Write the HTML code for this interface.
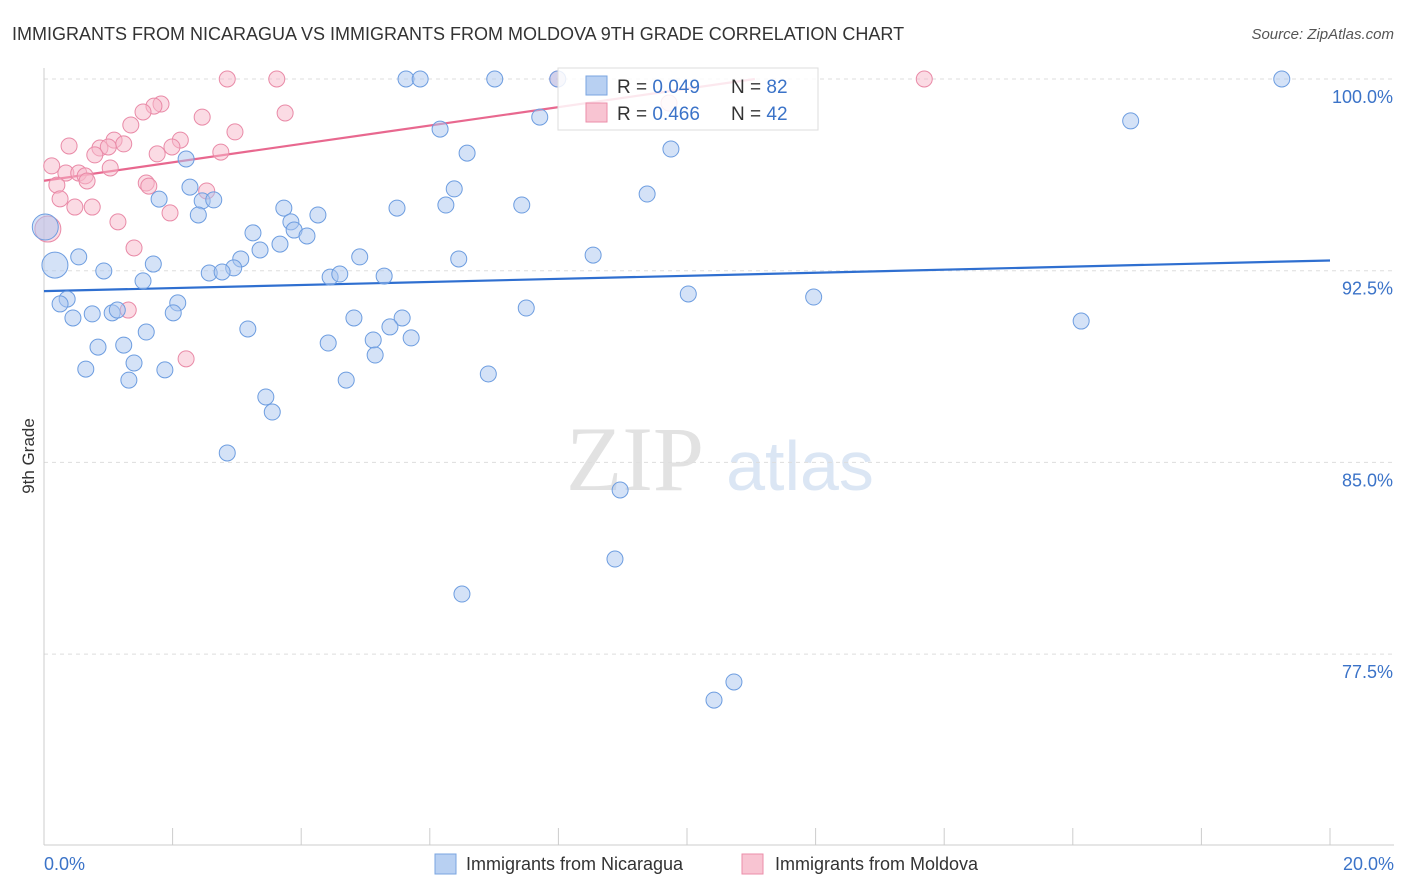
<!DOCTYPE html>
<html><head><meta charset="utf-8">
<style>
body{margin:0;background:#fff;font-family:"Liberation Sans",sans-serif;}
svg{display:block}
</style></head>
<body>
<svg id="chart" width="1406" height="892" viewBox="0 0 1406 892" xmlns="http://www.w3.org/2000/svg">
<text x="12" y="40" font-size="18" fill="#333">IMMIGRANTS FROM NICARAGUA VS IMMIGRANTS FROM MOLDOVA 9TH GRADE CORRELATION CHART</text>
<text x="1394" y="39" font-size="15" fill="#555" font-style="italic" text-anchor="end">Source: ZipAtlas.com</text>
<g>
<text x="635" y="490" font-size="92" fill="#e2e2e2" text-anchor="middle" font-family="Liberation Serif,serif">ZIP</text>
<text x="800" y="490" font-size="70" fill="#dbe6f4" text-anchor="middle">atlas</text>
</g>
<g id="grid"></g>
<g id="axes"></g>
<g id="trend"></g>
<g id="points"></g>
<text x="34" y="456" font-size="17" fill="#333" text-anchor="middle" transform="rotate(-90 34 456)">9th Grade</text>
<text x="44" y="870" font-size="18" fill="#3b73c8">0.0%</text>
<text x="1394" y="870" font-size="18" fill="#3b73c8" text-anchor="end">20.0%</text>
<g>
<rect x="558" y="68" width="260" height="62" fill="#fff" fill-opacity="0.85" stroke="#ddd"/>
<rect x="586" y="76" width="21" height="19" fill="#b8d0f2" stroke="#7aa5e0"/>
<rect x="586" y="103" width="21" height="19" fill="#f8c4d2" stroke="#eb8ea9"/>
<text x="617" y="93" font-size="19" fill="#333">R = <tspan fill="#3b73c8">0.049</tspan></text>
<text x="731" y="93" font-size="19" fill="#333">N = <tspan fill="#3b73c8">82</tspan></text>
<text x="617" y="120" font-size="19" fill="#333">R = <tspan fill="#3b73c8">0.466</tspan></text>
<text x="731" y="120" font-size="19" fill="#333">N = <tspan fill="#3b73c8">42</tspan></text>
</g>
<g>
<rect x="435" y="854" width="21" height="20" fill="#b8d0f2" stroke="#7aa5e0"/>
<text x="466" y="870" font-size="18" fill="#333">Immigrants from Nicaragua</text>
<rect x="742" y="854" width="21" height="20" fill="#f8c4d2" stroke="#eb8ea9"/>
<text x="775" y="870" font-size="18" fill="#333">Immigrants from Moldova</text>
</g>
</svg>
<script>
const yTicks=[100,92.5,85,77.5];
const yTickLabels=["100.0%","92.5%","85.0%","77.5%"];
const xTicks=[0,2,4,6,8,10,12,14,16,18,20];
const nicX=[5.63,5.85,7.01,7.99,19.25,7.71,16.9,6.16,9.75,6.58,2.21,2.27,6.38,9.38,1.79,2.46,2.64,5.49,6.25,7.43,3.73,2.4,3.84,4.26,3.89,4.09,3.25,3.36,3.67,0.54,1.7,0.93,3.06,2.95,2.57,2.77,4.91,6.45,8.54,4.45,4.6,5.29,1.54,0.36,0.25,2.08,2.01,0.45,0.75,1.06,1.14,10.02,11.97,7.5,4.82,5.57,5.38,3.17,1.59,16.13,5.12,5.71,4.42,0.84,1.24,5.15,1.4,0.65,1.88,1.32,4.7,6.91,3.45,3.55,2.85,8.96,8.88,6.5,10.73,10.42];
const nicY=[100,100,100,100,100,98.51,98.36,98.04,97.26,97.1,96.87,95.77,95.7,95.5,95.3,95.23,95.27,94.95,95.07,95.07,94.95,94.68,94.41,94.68,94.09,93.86,93.98,93.31,93.54,93.04,92.76,92.49,92.96,92.61,92.41,92.45,93.04,92.96,93.11,92.25,92.37,92.29,92.1,91.39,91.2,91.24,90.85,90.65,90.81,90.85,90.96,91.59,91.47,91.04,90.65,90.65,90.3,90.22,90.1,90.53,89.79,89.87,89.67,89.51,89.59,89.2,88.89,88.65,88.62,88.22,88.22,88.46,87.56,86.97,85.37,83.92,81.22,79.85,76.41,75.7];
const nicBigX=[0.02,0.17];
const nicBigY=[94.21,92.72];
const molX=[2.85,3.62,7.99,13.69,9.72,1.82,1.71,1.54,2.46,3.75,1.35,2.97,1.09,2.12,0.39,1.24,1.99,0.87,1.0,2.75,1.76,0.79,0.12,1.03,0.34,0.54,0.64,0.67,0.2,1.59,1.63,2.53,0.25,0.48,0.75,1.96,1.15,1.4,1.31,2.21];
const molY=[100,100,100,100,99.06,99.02,98.94,98.71,98.51,98.67,98.2,97.93,97.61,97.61,97.38,97.46,97.34,97.3,97.34,97.14,97.07,97.03,96.6,96.52,96.32,96.32,96.21,96.01,95.85,95.93,95.81,95.62,95.31,94.99,94.99,94.76,94.41,93.39,90.96,89.05];
const molBigX=[0.06];
const molBigY=[94.13];
const nicTrend=[91.7,92.9];
const molTrend=[96.02,0.36];
const NS="http://www.w3.org/2000/svg";
function xs(v){return 44+v*64.3;}
function ys(v){return 79+(100-v)*25.56;}
function mk(tag,attrs,parent){const e=document.createElementNS(NS,tag);for(const k in attrs)e.setAttribute(k,attrs[k]);parent.appendChild(e);return e;}
const grid=document.getElementById('grid'),axes=document.getElementById('axes');
yTicks.forEach((t,i)=>{
 const l=mk('line',{x1:44,x2:1394,y1:ys(t),y2:ys(t),stroke:'#ddd','stroke-dasharray':'4 4'},grid);
 
 
 const tx=mk('text',{x:1393,y:ys(t)+24,'font-size':18,fill:'#3b73c8','text-anchor':'end'},grid);
 tx.textContent=yTickLabels[i];
 
 
});
const ya=mk('line',{x1:44,x2:44,y1:68,y2:845,stroke:'#ccc'},axes);


const xa=mk('line',{x1:44,x2:1394,y1:845,y2:845,stroke:'#ccc'},axes);


xTicks.forEach(t=>{
 const l=mk('line',{x1:xs(t),x2:xs(t),y1:828,y2:845,stroke:'#ccc'},axes);
 
 
});
const tr=document.getElementById('trend');
const nl=mk('line',{x1:xs(0),y1:ys(nicTrend[0]),x2:xs(20),y2:ys(nicTrend[1]),stroke:'#2f6fd0','stroke-width':2.2},tr);


const molEnd=(100-molTrend[0])/molTrend[1];
const ml=mk('line',{x1:xs(0),y1:ys(molTrend[0]),x2:xs(molEnd),y2:ys(100),stroke:'#e8688f','stroke-width':2.2},tr);


const pts=document.getElementById('points');
function dots(X,Y,r,fill,stroke,name){
 X.forEach((x,i)=>{
  const c=mk('circle',{cx:xs(x),cy:ys(Y[i]),r:r,fill:fill,'fill-opacity':0.5,stroke:stroke,'stroke-width':1},pts);
  
  
 });
}
dots(molX,molY,8,'#f7b8ca','#e98aa7','point-moldova');
dots(molBigX,molBigY,13,'#f7b8ca','#e98aa7','point-moldova');
dots(nicX,nicY,8,'#a9c6ef','#6d9de0','point-nicaragua');
dots(nicBigX,nicBigY,13,'#a9c6ef','#6d9de0','point-nicaragua');
</script>
</body></html>
